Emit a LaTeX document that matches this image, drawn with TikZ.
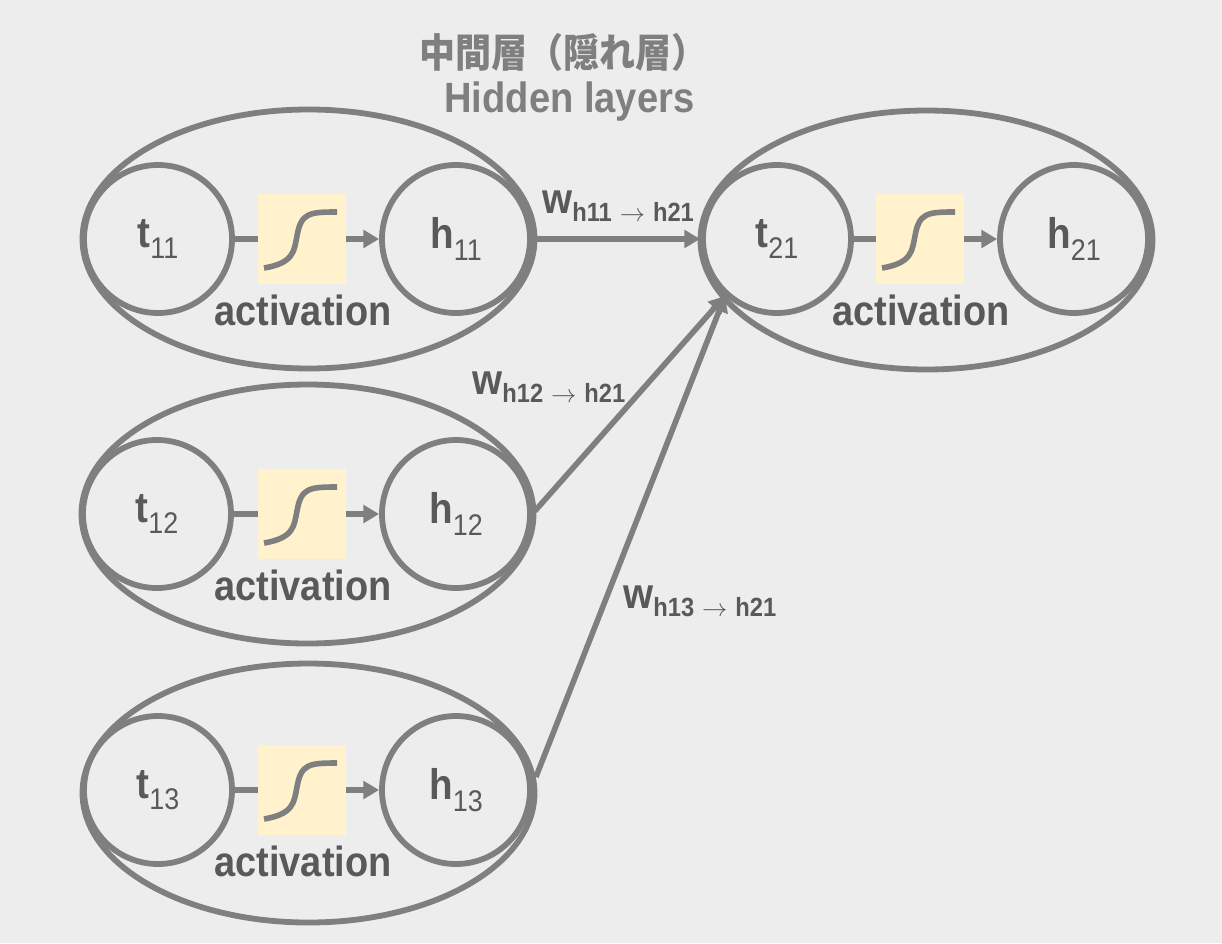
\documentclass[tikz,border=0pt]{standalone}
\usepackage{fontspec}
\usepackage{graphicx}
\setmainfont{Liberation Sans}[FakeStretch=0.9]
\newfontfamily\cjk{Noto Sans CJK JP}
\usetikzlibrary{arrows.meta,shapes.geometric}
\definecolor{bgc}{HTML}{EDEDED}
\definecolor{linec}{HTML}{7F7F7F}
\definecolor{textc}{HTML}{595959}
\definecolor{boxc}{HTML}{FFF2CC}
\newcommand{\fsz}[1]{\fontsize{#1}{#1}\selectfont}
\newcommand{\lab}[2]{{\fsz{24.4pt}\bfseries #1}\raisebox{-6.5pt}{\fsz{17pt}#2}}
\newcommand{\wlab}[1]{{\fsz{24.4pt}\bfseries w}\raisebox{-5pt}{\fsz{15pt}\bfseries h#1\hspace{4.5pt}{\fsz{15pt}$\rightarrow$}\hspace{4.5pt}h21}}
\tikzset{
  x=0.02cm,y=-0.02cm,
  conn/.style={draw=linec,line width=3.2pt},
  connarrow/.style={conn,-{Triangle[length=9pt,width=10pt]}},
  outer/.style={ellipse,draw=linec,line width=3.3pt,minimum width=452*0.02cm,minimum height=259*0.02cm,inner sep=0pt},
  unit/.style={circle,draw=linec,line width=3.3pt,minimum size=148*0.02cm,inner sep=0pt,text=textc},
  act/.style={fill=boxc,minimum width=88*0.02cm,minimum height=90*0.02cm,inner sep=0pt},
  actlab/.style={text=textc,font=\fsz{24pt}\bfseries,inner sep=0pt},
  weight/.style={text=textc,inner sep=0pt,anchor=base west},
  head/.style={text=linec,inner sep=0pt,font=\bfseries},
  curve/.style={draw=linec,line width=3.2pt}
}
\newcommand{\block}[7]{%
  % #1 suffix, #2 ell cx, #3 ell cy, #4 t cx, #5 box cx, #6 h cx, #7 row y
  \node[outer] (e#1) at (#2,#3) {};
  \node[unit] (t#1) at (#4,#7) {\lab{t}{#1}};
  \node[unit] (h#1) at (#6,#7) {\lab{h}{#1}};
  \node[act] (a#1) at (#5,#7) {};
  \draw[curve] (#5-38,#7+29) .. controls (#5-8,#7+24) and (#5-8,#7+12) .. (#5-5,#7-3) .. controls (#5-1,#7-26) and (#5+7,#7-27) .. (#5+35,#7-27);
  \node[actlab] at (#5+1,#7+71) {activation};
  \draw[conn] (t#1) -- (a#1.west |- t#1);
  \draw[connarrow] (a#1.east |- t#1) -- (h#1);
}
\begin{document}
\begin{tikzpicture}
\useasboundingbox (0,0) rectangle (1222,943);
\fill[bgc] (0,0) rectangle (1222,943);
\block{11}{308.5}{239}{158}{302}{456}{239}
\block{12}{307.5}{514}{157}{302}{456}{514}
\block{13}{308.5}{793}{158}{302}{456}{790}
\block{21}{926.5}{240}{777}{920}{1074}{239}
\node[head,anchor=base west] (jp) at (419,67) {\scalebox{1}[1.1]{\cjk\fsz{20.5pt}\bfseries 中間層（隠れ層）}};
\node[head,anchor=base west,font=\fsz{24.1pt}\bfseries] (en) at (444,112) {Hidden layers};
\node[weight] (w1) at (542,213) {\wlab{11}};
\node[weight] (w2) at (472,394) {\wlab{12}};
\node[weight] (w3) at (623,608) {\wlab{13}};
\coordinate (p) at (725,296);
\draw[connarrow] (e11.east |- t21) -- (t21.west);
\draw[connarrow] (h12.east) ++(2,-3) coordinate (s2) (s2) -- (p);
\draw[connarrow] (h13.east) ++(3,-13) coordinate (s3) (s3) -- (p);
\end{tikzpicture}
\end{document}
